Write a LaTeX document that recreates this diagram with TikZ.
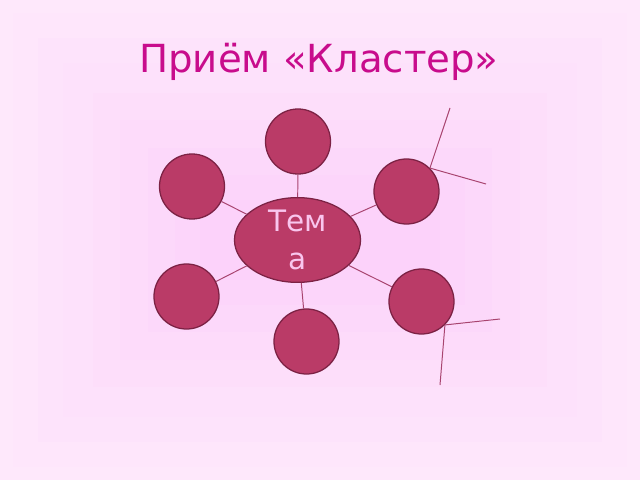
\documentclass[tikz,border=0pt]{standalone}
\usepackage{fontspec}
\setmainfont{DejaVu Sans}
\usetikzlibrary{shapes.geometric}
\definecolor{fondpale}{HTML}{FEE8FB}
\definecolor{fondvif}{HTML}{FBCAF9}
\definecolor{framboise}{HTML}{BA3B67}
\definecolor{bordeaux}{HTML}{7C2244}
\definecolor{trait}{HTML}{A8446F}
\definecolor{titre}{HTML}{C80C8C}
\definecolor{mot}{HTML}{F9C6EE}
\newcommand{\sujet}{Тем\\а}
\tikzset{
  rond/.style={circle, draw=bordeaux, fill=framboise, line width=0.9pt, minimum size=1.625cm, inner sep=0pt},
  noyau/.style={ellipse, draw=bordeaux, fill=framboise, line width=0.9pt, minimum width=3.15cm, minimum height=2.05cm, inner sep=0pt, text=mot, align=center, font=\fontsize{21}{27}\selectfont},
  lien/.style={draw=trait, line width=0.7pt}
}

\begin{document}
\begin{tikzpicture}[x=0.025cm, y=-0.025cm]
    \useasboundingbox (0,0) rectangle (640,480);
    % fond
    \foreach \m/\t in {0/0,13/7,38/15,63/23,93/32,120/42,148/52,175/62,200/72}
        \fill[fondvif!\t!fondpale] (\m,\m) rectangle (640-\m,480-\m);

    \node[text=titre, font=\fontsize{27.5}{33}\selectfont] (titre) at (319,62) {Приём «Кластер»};

    \node[noyau] (tema) at (297.5,240) {\sujet};
    \node[rond] (haut) at (298,141.5) {};
    \node[rond] (hg) at (192,186.5) {};
    \node[rond] (hd) at (406.5,191.5) {};
    \node[rond] (bg) at (186.5,296.5) {};
    \node[rond] (bd) at (421.5,301.5) {};
    \node[rond] (bas) at (306.5,341.5) {};

    \coordinate (b1) at (450,108);
    \coordinate (b2) at (486,184);
    \coordinate (b3) at (500,319);
    \coordinate (b4) at (440,385);

    \foreach \n in {haut,hg,hd,bg,bd,bas}
        \draw[lien] (tema) -- (\n);

    \draw[lien] (hd.45) -- (b1);
    \draw[lien] (hd.45) -- (b2);
    \draw[lien] (bd.-45) -- (b3);
    \draw[lien] (bd.-45) -- (b4);
\end{tikzpicture}
\end{document}
